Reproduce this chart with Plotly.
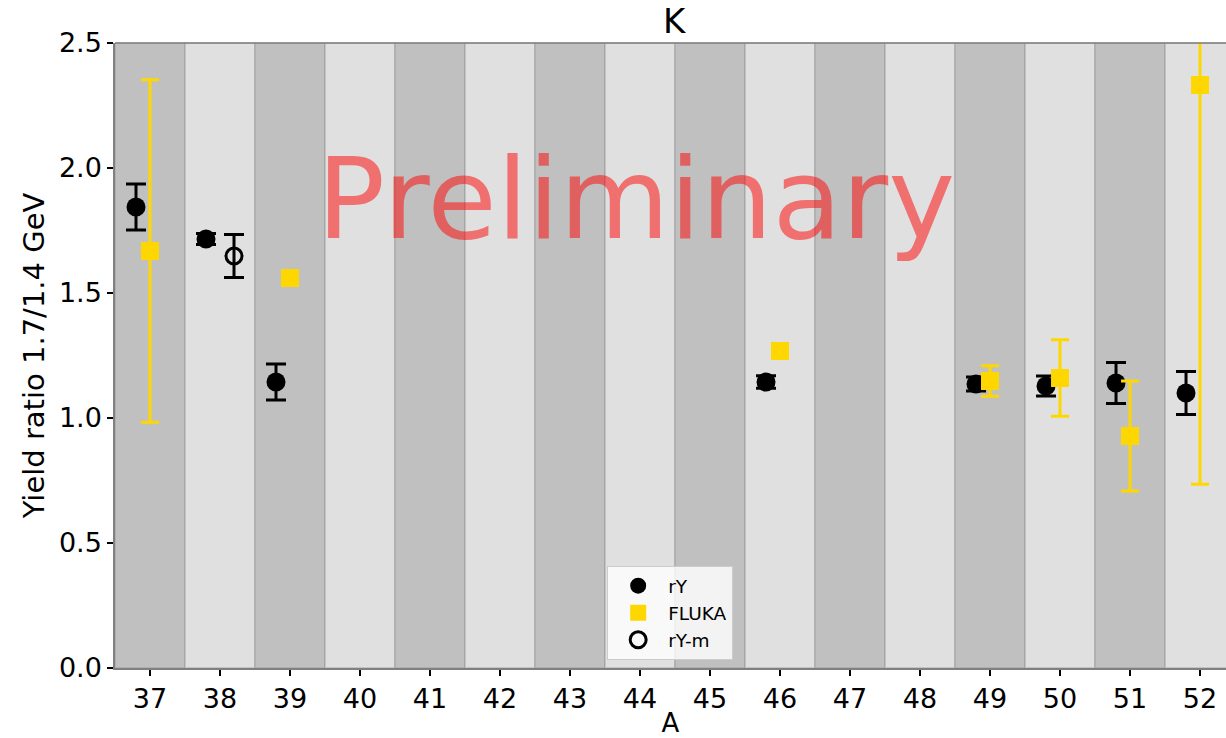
import plotly.graph_objects as go

# Mass numbers shown on the axis
A_values = list(range(37, 53))

# rY measurement
rY_A = [37, 38, 39, 46, 49, 50, 51, 52]
rY_val = [1.844, 1.716, 1.144, 1.144, 1.136, 1.128, 1.140, 1.100]
rY_err = [0.092, 0.022, 0.072, 0.025, 0.028, 0.040, 0.082, 0.086]

# FLUKA simulation
fluka_A = [37, 39, 46, 49, 50, 51, 52]
fluka_val = [1.668, 1.560, 1.268, 1.148, 1.160, 0.928, 2.332]
fluka_err = [0.685, 0.0, 0.0, 0.061, 0.153, 0.220, 1.597]

# rY-m measurement
rYm_A = [38]
rYm_val = [1.648]
rYm_err = [0.086]

OFFSET = 0.2
DARK_BAND = "#c0c0c0"
LIGHT_BAND = "#e0e0e0"
GOLD = "#ffd700"
FONT = "DejaVu Sans"

fig = go.Figure()

# Alternating vertical bands, one per mass number
shapes = []
for a in A_values:
    shapes.append(dict(
        type="rect", xref="x", yref="paper",
        x0=a - 0.5, x1=a + 0.5, y0=0, y1=1,
        fillcolor=DARK_BAND if a % 2 == 1 else LIGHT_BAND,
        line=dict(color="rgba(150,150,150,0.5)", width=1.5),
        layer="below",
    ))

fig.add_trace(go.Scatter(
    x=[a - OFFSET for a in rY_A], y=rY_val, mode="markers", name="rY",
    marker=dict(symbol="circle", size=19, color="black"),
    error_y=dict(type="data", array=rY_err, color="black", thickness=3, width=10),
))
fig.add_trace(go.Scatter(
    x=fluka_A, y=fluka_val, mode="markers", name="FLUKA",
    marker=dict(symbol="square", size=18, color=GOLD),
    error_y=dict(type="data", array=fluka_err, color=GOLD, thickness=3, width=9),
))
fig.add_trace(go.Scatter(
    x=[a + OFFSET for a in rYm_A], y=rYm_val, mode="markers", name="rY-m",
    marker=dict(symbol="circle-open", size=16, color="black", line=dict(width=3, color="black")),
    error_y=dict(type="data", array=rYm_err, color="black", thickness=3, width=10),
))

annotations = [
    dict(text="K", x=44.5, xref="x", y=1, yref="paper", yanchor="bottom",
         yshift=0, showarrow=False, font=dict(family=FONT, size=34, color="black")),
    dict(text="Preliminary", x=43.94, xref="x", y=1.876, yref="y",
         xanchor="center", yanchor="middle", showarrow=False,
         font=dict(family=FONT, size=113, color="rgba(255,0,0,0.5)")),
]

fig.update_layout(
    width=1226, height=738,
    margin=dict(l=115, r=0, t=43, b=70),
    paper_bgcolor="white", plot_bgcolor="white",
    shapes=shapes, annotations=annotations,
    font=dict(family=FONT, color="black"),
    legend=dict(
        x=0.443, y=0.163, xanchor="left", yanchor="top",
        bgcolor="rgba(255,255,255,0.8)", bordercolor="#cccccc", borderwidth=1,
        font=dict(family=FONT, size=18.5, color="black"),
        itemwidth=50, tracegroupgap=0,
    ),
    xaxis=dict(
        range=[36.5, 52.371], tickmode="array", tickvals=A_values,
        ticktext=[str(a) for a in A_values],
        ticks="outside", ticklen=6, tickwidth=1.5, tickcolor="black",
        showgrid=False, zeroline=False,
        showline=True, linecolor="#808080", linewidth=1.5, mirror=False,
        tickfont=dict(family=FONT, size=27),
        title=dict(text="A", font=dict(family=FONT, size=26), standoff=6),
    ),
    yaxis=dict(
        range=[0, 2.5], tickmode="array", tickvals=[0, 0.5, 1.0, 1.5, 2.0, 2.5],
        tickformat=".1f",
        ticks="outside", ticklen=6, tickwidth=1.5, tickcolor="black",
        showgrid=False, zeroline=False,
        showline=True, linecolor="#808080", linewidth=1.5,
        tickfont=dict(family=FONT, size=27),
        title=dict(text="Yield ratio 1.7/1.4 GeV", font=dict(family=FONT, size=29), standoff=6),
    ),
)

# top spine
fig.add_shape(type="line", xref="paper", yref="paper", x0=0, x1=1, y0=1, y1=1,
              line=dict(color="#808080", width=1.5))

fig.write_html("out.html")
